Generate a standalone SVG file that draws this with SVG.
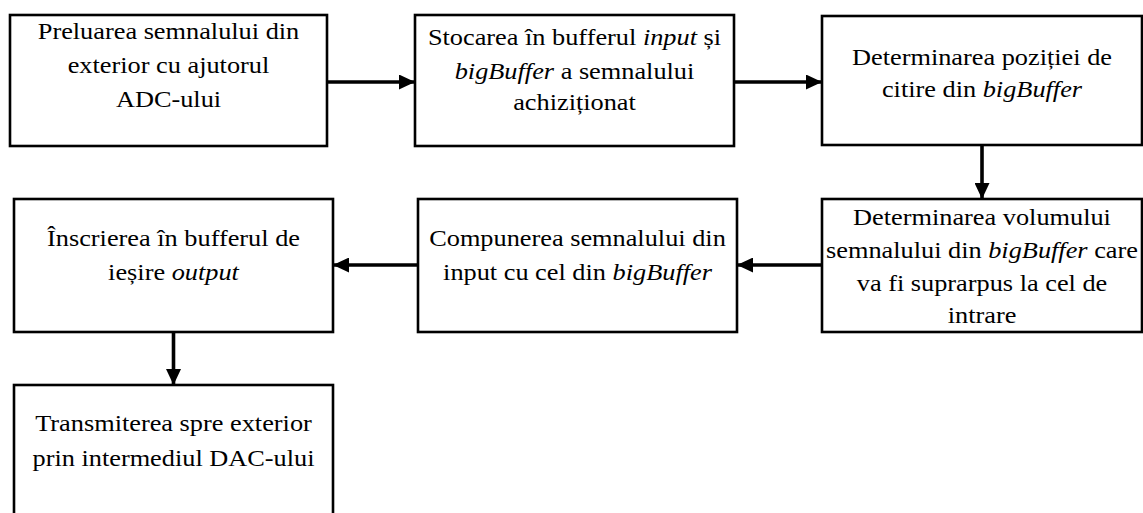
<svg xmlns="http://www.w3.org/2000/svg" width="1143" height="513" viewBox="0 0 1143 513">
<style>
.box{fill:#fff;stroke:#000;stroke-width:2.6}
.t{font-family:"Liberation Serif","Times New Roman",serif;font-size:22.5px;fill:#000;text-anchor:middle}
.i{font-style:italic}
.c{stroke:#000;stroke-width:3.6;fill:none}
</style>
<defs>
<marker id="ah" markerUnits="userSpaceOnUse" markerWidth="16" markerHeight="15" refX="16" refY="7.5" orient="auto">
<path d="M0,0 L16,7.5 L0,15 z" fill="#000"/>
</marker>
</defs>
<rect width="1143" height="513" fill="#fff"/>
<g id="connectors">
<line class="c" x1="327" y1="82" x2="415" y2="82" marker-end="url(#ah)"/>
<line class="c" x1="734" y1="82" x2="822" y2="82" marker-end="url(#ah)"/>
<line class="c" x1="982" y1="145" x2="982" y2="199" marker-end="url(#ah)"/>
<line class="c" x1="822" y1="265" x2="737" y2="265" marker-end="url(#ah)"/>
<line class="c" x1="418" y1="265" x2="333" y2="265" marker-end="url(#ah)"/>
<line class="c" x1="173.5" y1="332" x2="173.5" y2="385" marker-end="url(#ah)"/>
</g>
<g id="n1">
<rect class="box" x="10" y="15" width="317" height="131"/>
<g transform="translate(168.5,0) scale(1.17,1)">
<text class="t" x="0" y="39.5">Preluarea semnalului din</text>
<text class="t" x="0" y="73.5">exterior cu ajutorul</text>
<text class="t" x="0" y="107">ADC-ului</text>
</g>
</g>
<g id="n2">
<rect class="box" x="415" y="15" width="319" height="131"/>
<g transform="translate(574.5,0) scale(1.17,1)">
<text class="t" x="0" y="45">Stocarea în bufferul <tspan class="i">input</tspan> și</text>
<text class="t" x="0" y="79"><tspan class="i">bigBuffer</tspan> a semnalului</text>
<text class="t" x="0" y="110.5">achiziționat</text>
</g>
</g>
<g id="n3">
<rect class="box" x="822" y="16" width="320" height="129"/>
<g transform="translate(982,0) scale(1.17,1)">
<text class="t" x="0" y="65">Determinarea poziției de</text>
<text class="t" x="0" y="97">citire din <tspan class="i">bigBuffer</tspan></text>
</g>
</g>
<g id="n4">
<rect class="box" x="822" y="199" width="320" height="133"/>
<g transform="translate(982,0) scale(1.17,1)">
<text class="t" x="0" y="225.5">Determinarea volumului</text>
<text class="t" x="0" y="258.5">semnalului din <tspan class="i">bigBuffer</tspan> care</text>
<text class="t" x="0" y="291">va fi suprarpus la cel de</text>
<text class="t" x="0" y="323">intrare</text>
</g>
</g>
<g id="n5">
<rect class="box" x="418" y="199" width="319" height="133"/>
<g transform="translate(577.5,0) scale(1.17,1)">
<text class="t" x="0" y="246.5">Compunerea semnalului din</text>
<text class="t" x="0" y="280">input cu cel din <tspan class="i">bigBuffer</tspan></text>
</g>
</g>
<g id="n6">
<rect class="box" x="14" y="199" width="319" height="133"/>
<g transform="translate(173.5,0) scale(1.17,1)">
<text class="t" x="0" y="246.5">Înscrierea în bufferul de</text>
<text class="t" x="0" y="280">ieșire <tspan class="i">output</tspan></text>
</g>
</g>
<g id="n7">
<rect class="box" x="14" y="385" width="319" height="150"/>
<g transform="translate(173.5,0) scale(1.17,1)">
<text class="t" x="0" y="431.5">Transmiterea spre exterior</text>
<text class="t" x="0" y="466">prin intermediul DAC-ului</text>
</g>
</g>
</svg>
